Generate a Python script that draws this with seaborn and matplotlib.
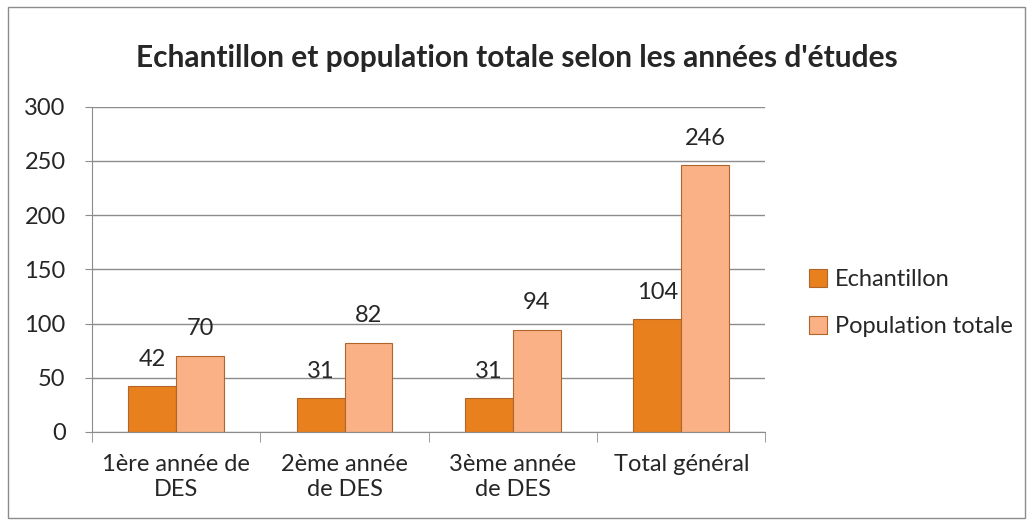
import matplotlib
matplotlib.use("Agg")
import matplotlib.pyplot as plt
import seaborn as sns
import pandas as pd
from matplotlib.patches import Rectangle

# données
categories = ["1ère année de\nDES", "2ème année\nde DES", "3ème année\nde DES", "Total général"]
echantillon = [42, 31, 31, 104]
population = [70, 82, 94, 246]
series = ["Echantillon", "Population totale"]
colors = ["#E8801E", "#F9B185"]

df = pd.DataFrame({
    "Année": categories * 2,
    "Série": [series[0]] * 4 + [series[1]] * 4,
    "Effectif": echantillon + population,
})

sns.set_style("white")
plt.rcParams["font.family"] = ["Lato", "DejaVu Sans"]

fig = plt.figure(figsize=(10.33, 5.21), dpi=100)
ax = fig.add_axes([0.089, 0.171, 0.652, 0.624])

sns.barplot(data=df, x="Année", y="Effectif", hue="Série", palette=colors,
            saturation=1, width=0.57, edgecolor="#B0652A", linewidth=0.8,
            ax=ax, legend=False)

for cont in ax.containers:
    ax.bar_label(cont, fontsize=17, padding=12)

ax.set_ylim(0, 300)
ax.set_xlim(-0.5, 3.5)
ax.set_yticks(range(0, 301, 50))
ax.yaxis.grid(True, color="#8C8C8C", linewidth=1)
ax.set_axisbelow(True)
ax.set_xlabel("")
ax.set_ylabel("")
ax.tick_params(axis="y", labelsize=17, length=5, color="#8C8C8C", direction="out", left=True, pad=14)
ax.tick_params(axis="x", labelsize=17, length=0, pad=16)
ax.set_xticks([-0.5, 0.5, 1.5, 2.5, 3.5], minor=True)
ax.tick_params(axis="x", which="minor", length=7, color="#8C8C8C", bottom=True)
for side in ["top", "right"]:
    ax.spines[side].set_visible(False)
for side in ["left", "bottom"]:
    ax.spines[side].set_color("#8C8C8C")

fig.text(0.5, 0.888, "Echantillon et population totale selon les années d'études",
         ha="center", va="center", fontsize=21.5, fontweight="bold")

handles = [Rectangle((0, 0), 1, 1, facecolor=c, edgecolor="#B0652A", linewidth=0.8) for c in colors]
fig.legend(handles, series, loc="center left", bbox_to_anchor=(0.772, 0.418),
           frameon=False, fontsize=17, handlelength=0.75, handleheight=0.75,
           handletextpad=0.35, labelspacing=1.1, borderpad=0)

fig.patches.append(Rectangle((0.008, 0.006), 0.984, 0.98, transform=fig.transFigure,
                             fill=False, edgecolor="#8C8C8C", linewidth=1))

fig.savefig("out.png", dpi=100)
